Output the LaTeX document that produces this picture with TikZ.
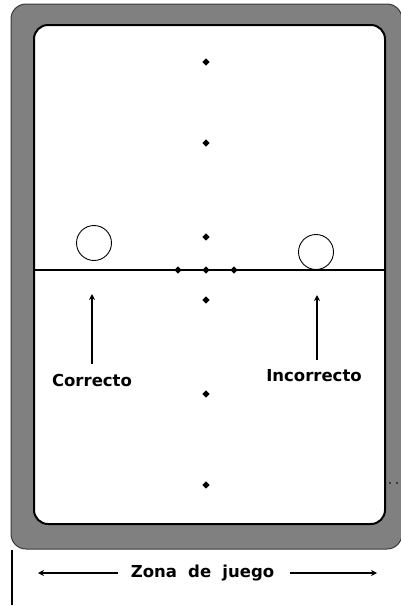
\documentclass[tikz,border=0pt]{standalone}
\usepackage{fontspec}
\setmainfont{DejaVu Sans}
\usetikzlibrary{shapes.geometric,arrows.meta,calc}
\definecolor{boardgray}{HTML}{808080}
\definecolor{rimline}{HTML}{3A3A3A}
\tikzset{
  pt/.style={diamond,fill=black,inner sep=0pt,minimum size=7.5pt},
  ball/.style={circle,draw=black,line width=0.9pt,minimum size=35pt,inner sep=0pt},
  lbl/.style={font=\bfseries\fontsize{16.5}{18}\selectfont,inner sep=0pt},
  arr/.style={line width=1.1pt,-{Stealth[length=6pt,width=6pt]}},
}
\begin{document}
\begin{tikzpicture}[x=1pt,y=-1pt]
\useasboundingbox (0,0) rectangle (401,606);
% board
\draw[fill=boardgray,draw=rimline,line width=1pt,rounded corners=15pt] (11,4) rectangle (402,549);
\draw[fill=white,draw=black,line width=2pt,rounded corners=14pt] (34,25) rectangle (385,524);
% center line
\coordinate (L) at (34,270);
\coordinate (R) at (385,270);
\draw[line width=1.3pt] (L) -- (R);
% spots
\node[pt] (d1) at (206,62) {};
\node[pt] (d2) at (206,143) {};
\node[pt] (d3) at (206,237) {};
\node[pt] (d4) at (178,270) {};
\node[pt] (d5) at (206,270) {};
\node[pt] (d6) at (234,270) {};
\node[pt] (d7) at (206,300) {};
\node[pt] (d8) at (206,394) {};
\node[pt] (d9) at (206,485) {};
% balls
\node[ball] (b1) at (94,243) {};
\node[ball] (b2) at (316,252) {};
% labels
\node[lbl] (c) at (92,380) {Correcto};
\node[lbl] (i) at (314,376) {Incorrecto};
\coordinate (ct) at (92,294);
\coordinate (it) at (317,295);
\draw[arr] ($(ct |- c.north)+(0,-10)$) -- (ct);
\draw[arr] ($(it |- i.north)+(0,-10)$) -- (it);
% small marks
\fill[rimline] (389,482) rectangle (391,484);
\fill[rimline] (396,482) rectangle (398,484);
% zona de juego
\node[lbl] (z) at (202.5,573) {Zona\,\, de\,\, juego};
\coordinate (zl) at (38,573);
\coordinate (zr) at (377,573);
\draw[arr] ($(z.west)+(-13,0)$) -- (zl);
\draw[arr] ($(z.east)+(16,0)$) -- (zr);
\coordinate (v1) at (12,550);
\coordinate (v2) at (12,605);
\draw[line width=1.5pt] (v1) -- (v2);
\end{tikzpicture}
\end{document}
